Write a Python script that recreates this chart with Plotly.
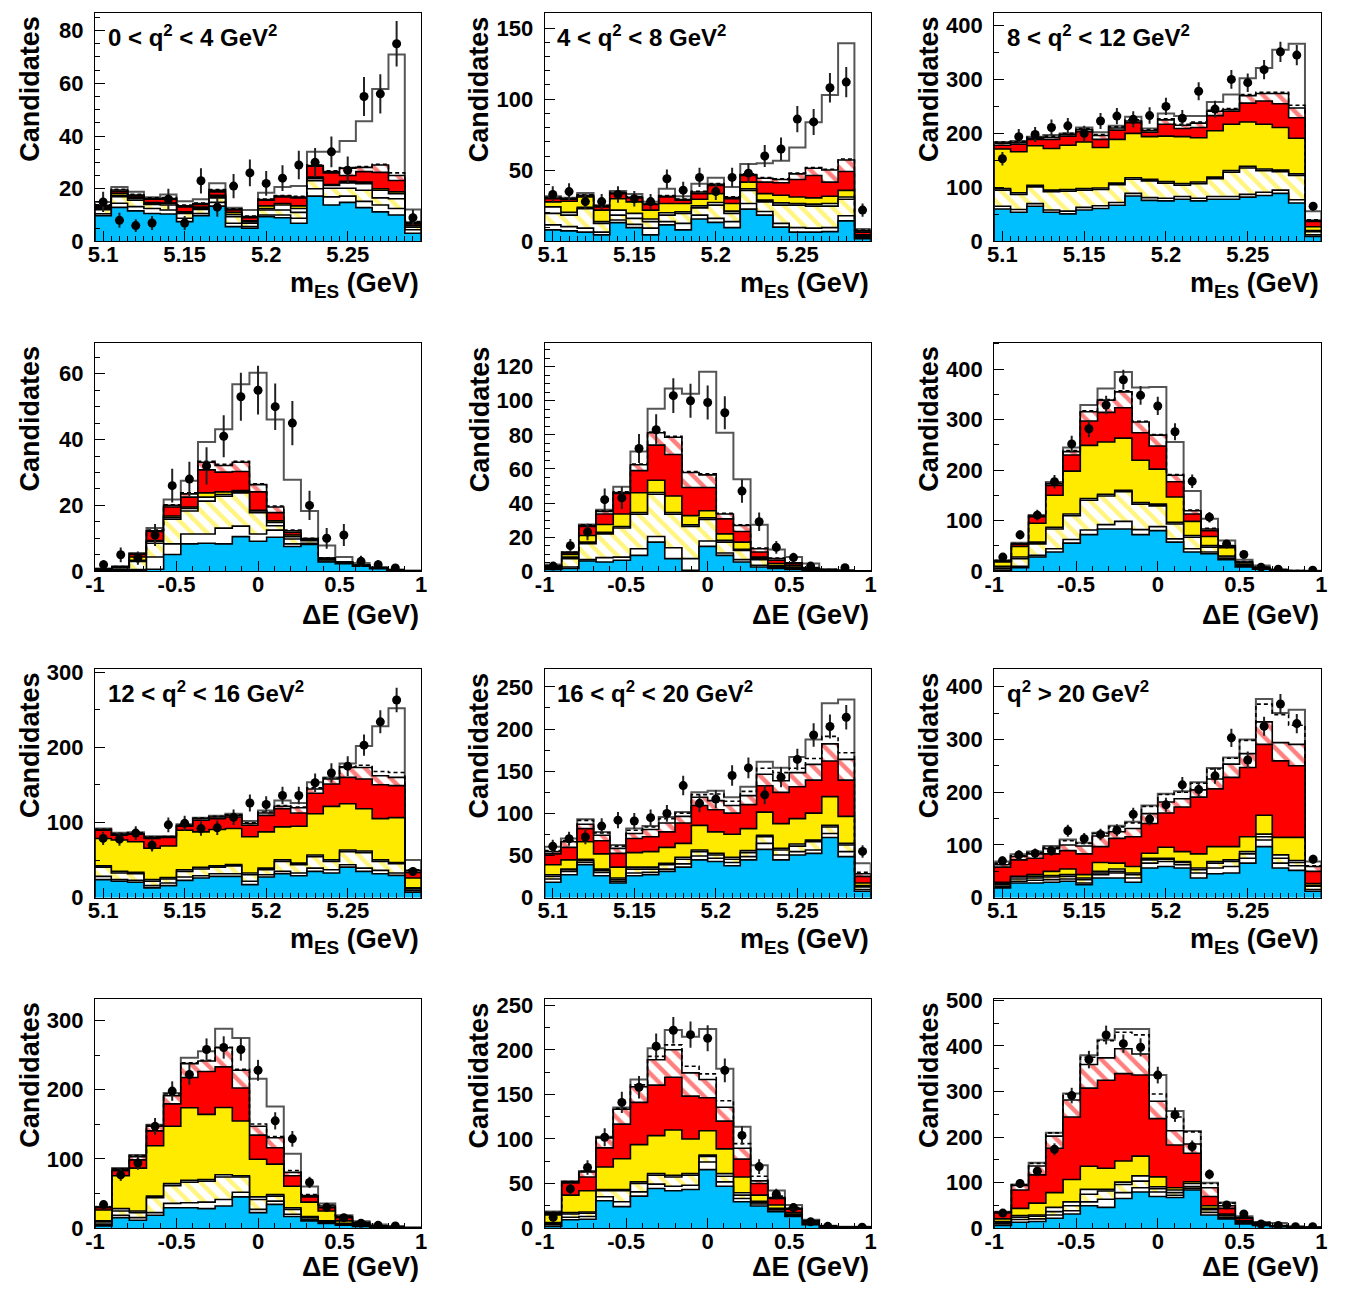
import numpy as np
import plotly.graph_objects as go

# ---------------- binning / ticks ----------------
MES_LO, MES_HI, MES_NBINS = 5.095, 5.295, 20
DE_LO, DE_HI, DE_NBINS = -1.0, 1.0, 19
MES_TICKS = [5.1, 5.15, 5.2, 5.25]
MES_TICKTEXT = ["5.1", "5.15", "5.2", "5.25"]
DE_TICKS = [-1, -0.5, 0, 0.5, 1]
DE_TICKTEXT = ["-1", "-0.5", "0", "0.5", "1"]

# ---------------- panel 1 : 0<q2<4, mES ----------------
p1_cyan = [9.8, 12.9, 11.6, 10.6, 10.4, 7.5, 9.8, 13.4, 5.6, 5.0, 9.4, 9.0, 6.9, 17.2, 13.8, 14.8, 12.8, 11.2, 10.0, 3.1]
p1_w1 = [10.5, 14.5, 13.2, 12.5, 11.9, 8.8, 10.6, 14.8, 6.9, 5.6, 10.0, 10.0, 8.8, 20.0, 16.9, 17.2, 15.2, 13.8, 12.5, 4.4]
p1_yh = [12.0, 17.0, 15.6, 14.0, 13.8, 10.6, 12.1, 16.5, 9.4, 6.9, 11.9, 11.9, 11.0, 23.0, 20.2, 20.2, 19.4, 16.5, 16.2, 5.4]
p1_w2 = [12.5, 17.5, 16.2, 14.4, 14.4, 11.0, 12.6, 17.0, 10.2, 7.4, 12.5, 13.8, 12.5, 23.8, 21.2, 22.2, 21.9, 19.4, 18.1, 6.0]
p1_yel = [13.0, 18.3, 16.8, 14.7, 14.6, 11.2, 13.0, 17.5, 11.0, 7.8, 13.5, 14.4, 13.5, 24.4, 21.6, 22.8, 22.5, 20.0, 18.8, 6.2]
p1_red = [13.5, 19.0, 17.3, 16.0, 16.0, 13.1, 14.0, 18.8, 11.9, 9.0, 15.6, 16.9, 16.5, 28.5, 26.0, 25.0, 26.5, 26.2, 23.1, 6.9]
p1_rh = [13.7, 19.5, 17.6, 16.3, 16.3, 13.5, 14.4, 19.4, 12.2, 9.4, 15.9, 17.2, 16.8, 28.8, 26.5, 27.8, 28.1, 29.0, 25.0, 7.2]
p1_dash = [13.9, 19.8, 17.9, 16.5, 16.6, 13.8, 14.6, 19.7, 12.4, 9.6, 16.1, 17.4, 17.1, 29.0, 26.8, 28.0, 28.4, 29.3, 26.0, 7.5]
p1_tot = [15.0, 20.6, 18.8, 16.8, 17.8, 15.2, 16.0, 22.1, 12.8, 11.9, 18.5, 20.6, 21.0, 34.0, 34.0, 38.1, 45.6, 57.8, 70.9, 12.1]
p1_data = [15, 8, 6, 7, 16, 7, 23, 13, 21, 26, 22, 24, 29, 30, 34, 27, 55, 56, 75, 9]

# ---------------- panel 2 : 4<q2<8, mES ----------------
p2_cyan = [8.1, 7.4, 6.5, 4.6, 13.2, 9.7, 4.6, 11.6, 8.1, 15.7, 13.4, 9.7, 22.7, 18.5, 10.0, 6.5, 6.5, 6.9, 14.4, 1.9]
p2_w1 = [11.6, 10.4, 9.3, 6.5, 15.0, 12.0, 9.3, 13.9, 12.7, 18.5, 16.2, 13.9, 26.6, 21.0, 12.7, 9.7, 9.3, 9.7, 18.0, 2.8]
p2_yh = [19.7, 18.5, 23.0, 12.7, 18.5, 16.2, 13.9, 18.5, 19.7, 23.6, 25.5, 19.7, 35.9, 27.8, 25.5, 25.5, 24.8, 24.8, 29.6, 3.5]
p2_w2 = [24.3, 20.4, 24.0, 13.9, 22.0, 19.7, 15.7, 20.1, 20.8, 25.0, 27.3, 21.3, 37.0, 29.0, 27.1, 26.6, 26.2, 26.6, 31.2, 4.2]
p2_yel = [27.8, 28.2, 31.2, 22.0, 30.0, 27.8, 22.0, 26.6, 26.6, 29.6, 33.6, 26.6, 41.7, 33.6, 32.4, 31.2, 30.6, 31.7, 35.9, 4.6]
p2_red = [30.0, 29.6, 31.9, 24.3, 33.6, 30.6, 25.9, 31.2, 28.9, 33.6, 39.4, 30.0, 46.3, 41.7, 41.2, 43.5, 46.3, 41.7, 49.1, 6.5]
p2_rh = [30.5, 30.0, 32.4, 24.8, 34.0, 31.0, 26.2, 31.7, 29.4, 34.7, 40.1, 30.8, 47.0, 44.4, 43.5, 47.5, 51.4, 50.2, 57.2, 7.4]
p2_dash = [31.0, 30.3, 32.7, 25.2, 34.5, 31.5, 26.6, 32.2, 29.8, 35.2, 40.6, 31.3, 47.5, 44.9, 44.0, 48.0, 51.9, 50.7, 57.9, 8.0]
p2_tot = [31.7, 30.6, 34.0, 25.5, 35.4, 33.3, 27.8, 37.0, 31.7, 40.5, 44.7, 38.2, 54.4, 54.9, 56.7, 66.0, 83.8, 103.0, 139.4, 8.8]
p2_data = [33, 35, 28, 28, 33, 30, 28, 44, 36, 45, 35, 45, 48, 60, 65, 86, 84, 108, 112, 22]

# ---------------- panel 3 : 8<q2<12, mES ----------------
p3_cyan = [60, 54, 65, 54, 51, 58, 61, 67, 84, 76, 75, 78, 75, 78, 78, 82, 85, 89, 71, 9]
p3_w1 = [65, 59, 70, 58, 56, 63, 66, 72, 89, 81, 80, 83, 80, 83, 83, 87, 91, 95, 77, 12]
p3_yh = [95, 87, 101, 92, 93, 95, 96, 105, 115, 112, 108, 104, 107, 116, 128, 136, 131, 129, 122, 18]
p3_w2 = [98, 90, 104, 95, 96, 98, 99, 108, 118, 115, 111, 107, 110, 119, 131, 139, 134, 132, 125, 20]
p3_yel = [171, 166, 177, 172, 178, 184, 174, 189, 200, 194, 195, 194, 192, 205, 217, 221, 217, 211, 191, 27]
p3_red = [178, 180, 189, 189, 195, 203, 189, 206, 220, 202, 217, 209, 211, 233, 241, 256, 260, 255, 229, 37]
p3_rh = [182, 183, 191, 193, 198, 207, 196, 210, 223, 205, 225, 215, 219, 241, 244, 270, 274, 274, 247, 39]
p3_dash = [184, 185, 193, 195, 200, 209, 198, 212, 225, 207, 227, 217, 221, 243, 246, 272, 276, 276, 252, 40]
p3_tot = [184, 186, 194, 197, 200, 211, 202, 214, 231, 209, 237, 232, 232, 258, 272, 302, 321, 355, 366, 56]
p3_data = [153, 194, 198, 211, 214, 200, 223, 232, 226, 233, 250, 228, 278, 245, 300, 294, 318, 351, 345, 65]

# ---------------- panel 4 : 0<q2<4, dE ----------------
p4_cyan = [0.2, 0.2, 0.3, 0.6, 5.1, 8.3, 8.5, 8.3, 10.5, 9.1, 10.3, 7.5, 8.1, 2.8, 2.3, 1.5, 0.8, 0.3, 0.1]
p4_w1 = [0.3, 0.4, 0.5, 4.3, 8.3, 11.3, 11.3, 13.1, 13.7, 11.3, 12.5, 8.3, 8.5, 3.1, 2.5, 1.6, 0.8, 0.3, 0.1]
p4_yh = [0.4, 1.0, 3.0, 8.5, 15.8, 18.3, 21.3, 22.8, 23.8, 17.8, 13.8, 9.8, 9.3, 3.5, 2.6, 1.7, 0.9, 0.3, 0.1]
p4_w2 = [0.5, 1.1, 3.3, 9.1, 16.3, 19.1, 22.5, 23.3, 24.1, 18.3, 14.8, 10.5, 9.5, 3.6, 2.7, 1.7, 0.9, 0.3, 0.1]
p4_yel = [0.5, 1.2, 4.3, 9.3, 16.8, 19.5, 23.8, 24.1, 24.5, 18.5, 15.3, 11.0, 9.6, 3.7, 2.7, 1.8, 0.9, 0.3, 0.1]
p4_red = [0.6, 1.3, 5.1, 12.1, 19.5, 22.5, 30.8, 30.1, 30.3, 24.1, 17.8, 11.8, 9.8, 3.9, 2.8, 1.8, 1.0, 0.4, 0.1]
p4_rh = [0.6, 1.3, 5.2, 12.3, 20.0, 23.5, 33.1, 32.1, 33.1, 26.3, 19.5, 12.3, 9.9, 4.0, 2.8, 1.9, 1.0, 0.4, 0.1]
p4_dash = [0.7, 1.4, 5.3, 12.5, 20.2, 23.8, 33.4, 32.5, 33.4, 26.6, 19.8, 12.5, 10.0, 4.1, 2.9, 1.9, 1.0, 0.4, 0.1]
p4_tot = [0.8, 1.5, 5.5, 13.1, 21.8, 27.5, 39.3, 43.1, 56.8, 60.3, 46.1, 27.8, 18.3, 7.8, 4.3, 2.5, 1.3, 0.5, 0.2]
p4_data = [2, 5, 4, 11, 26, 28, 32, 41, 53, 55, 50, 45, 20, 10, 11, 3, 2, 1, None]

# ---------------- panel 5 : 4<q2<8, dE ----------------
p5_cyan = [1.0, 1.6, 6.0, 5.4, 6.4, 9.3, 17.1, 7.4, 0.6, 14.6, 9.3, 5.4, 2.5, 1.6, 1.0, 0.6, 0.2, 0.0, 0.0]
p5_w1 = [1.6, 2.5, 6.8, 8.0, 8.3, 13.2, 20.4, 13.8, 7.4, 17.7, 10.7, 6.8, 3.5, 2.1, 1.6, 0.8, 0.4, 0.2, 0.0]
p5_yh = [2.1, 7.4, 16.1, 21.9, 25.4, 33.4, 45.2, 33.4, 26.2, 30.3, 17.1, 12.2, 6.8, 2.9, 2.1, 1.0, 0.6, 0.2, 0.0]
p5_w2 = [2.3, 8.3, 17.1, 22.9, 26.2, 34.4, 46.2, 34.4, 27.2, 31.3, 18.1, 12.8, 7.4, 3.3, 2.5, 1.2, 0.6, 0.2, 0.0]
p5_yel = [2.5, 9.9, 21.0, 27.4, 33.6, 46.0, 53.4, 44.1, 32.6, 35.5, 21.9, 17.1, 8.3, 4.5, 3.5, 1.4, 0.8, 0.2, 0.0]
p5_red = [2.9, 10.7, 26.2, 33.6, 45.6, 59.0, 74.0, 68.5, 49.1, 49.1, 30.7, 23.3, 11.3, 6.4, 4.5, 1.7, 0.8, 0.4, 0.2]
p5_rh = [3.1, 10.9, 26.8, 35.1, 46.2, 62.5, 81.2, 78.6, 57.9, 56.5, 33.6, 26.8, 13.2, 7.4, 4.9, 1.9, 1.0, 0.4, 0.2]
p5_dash = [3.3, 11.1, 27.2, 35.5, 46.6, 62.9, 81.6, 79.2, 58.5, 57.1, 34.0, 27.2, 13.6, 7.8, 5.0, 2.1, 1.0, 0.4, 0.2]
p5_tot = [3.9, 11.3, 27.4, 36.1, 49.5, 70.3, 95.3, 107.2, 104.1, 117.0, 81.2, 54.0, 27.2, 12.8, 8.3, 4.5, 1.2, 0.6, 0.2]
p5_data = [3, 15, 23, 42, 43, 72, 83, 103, 100, 99, 93, 47, 29, 14, 8, 3, None, 2, None]

# ---------------- panel 6 : 8<q2<12, dE ----------------
p6_cyan = [2.0, 7.2, 28.1, 37.9, 55.6, 72.5, 83.7, 83.7, 72.5, 80.4, 57.5, 37.9, 34.6, 22.9, 8.5, 3.9, 1.3, 0.3, 0.1]
p6_w1 = [5.2, 9.8, 31.4, 44.4, 62.7, 81.7, 92.2, 98.7, 82.4, 88.2, 64.1, 44.4, 37.9, 24.8, 9.8, 4.6, 1.6, 0.5, 0.2]
p6_yh = [8.5, 24.8, 54.2, 83.7, 109.8, 140.5, 149.0, 157.5, 132.7, 129.4, 93.5, 67.3, 47.7, 28.1, 11.8, 5.2, 2.0, 0.7, 0.3]
p6_w2 = [9.8, 28.1, 57.5, 86.9, 113.1, 143.8, 152.3, 160.1, 136.0, 132.7, 96.7, 70.6, 51.0, 30.1, 13.1, 5.9, 2.2, 0.8, 0.3]
p6_yel = [18.3, 49.0, 94.8, 150.3, 198.0, 249.0, 255.6, 263.4, 219.6, 202.0, 147.0, 98.7, 68.6, 46.4, 16.3, 6.5, 2.6, 0.9, 0.4]
p6_red = [19.6, 52.9, 107.8, 169.9, 230.0, 297.4, 314.4, 323.5, 273.9, 247.7, 177.0, 113.1, 80.4, 49.0, 17.6, 7.2, 2.8, 1.0, 0.4]
p6_rh = [20.3, 54.2, 109.2, 173.2, 236.6, 315.7, 338.6, 354.9, 295.4, 269.3, 190.0, 119.6, 83.7, 50.3, 18.3, 7.8, 3.0, 1.0, 0.5]
p6_dash = [20.9, 54.9, 109.8, 174.5, 238.6, 317.6, 339.9, 356.9, 296.7, 270.6, 191.5, 120.9, 85.0, 51.0, 19.0, 8.5, 3.1, 1.1, 0.5]
p6_tot = [21.6, 56.2, 111.1, 176.5, 245.0, 328.8, 361.4, 394.1, 363.4, 364.7, 255.6, 158.8, 103.6, 60.8, 22.9, 11.1, 3.3, 1.3, 0.7]
p6_data = [28, 72, 111, 177, 252, 282, 329, 379, 348, 327, 276, 178, 107, 54, 33, 8, 4, None, 2]

# ---------------- panel 7 : 12<q2<16, mES ----------------
p7_cyan = [24.1, 21.9, 20.6, 13.2, 16.2, 23.2, 26.3, 28.5, 28.5, 17.5, 27.6, 32.0, 29.4, 35.1, 32.9, 40.8, 35.1, 32.0, 29.8, 7.5]
p7_w1 = [28.5, 24.1, 23.2, 16.2, 19.7, 27.6, 29.4, 32.0, 32.0, 21.9, 30.7, 35.1, 32.9, 39.5, 37.3, 43.9, 39.5, 36.4, 32.9, 9.6]
p7_yh = [40.8, 32.9, 32.0, 21.9, 25.0, 35.1, 38.2, 40.8, 42.5, 30.7, 37.3, 48.2, 43.9, 54.8, 48.2, 61.4, 60.1, 48.2, 45.2, 11.8]
p7_w2 = [42.5, 35.1, 33.8, 24.1, 26.8, 37.3, 40.4, 42.5, 44.3, 32.9, 39.5, 50.4, 46.1, 57.0, 50.4, 63.6, 62.3, 50.4, 46.9, 13.2]
p7_yel = [78.9, 76.8, 74.6, 65.8, 68.9, 89.9, 87.7, 90.8, 92.1, 81.1, 87.7, 94.3, 95.2, 111.8, 121.5, 125.0, 118.4, 105.3, 106.6, 26.3]
p7_red = [89.9, 83.3, 84.6, 78.9, 80.3, 95.2, 103.1, 105.3, 107.5, 96.5, 109.6, 118.4, 112.7, 139.0, 151.3, 160.1, 157.9, 150.4, 149.1, 33.8]
p7_rh = [90.8, 84.6, 85.5, 80.3, 81.1, 96.5, 105.3, 107.5, 109.6, 98.7, 112.7, 121.5, 119.7, 144.7, 157.9, 173.2, 173.2, 162.3, 160.1, 36.4]
p7_dash = [91.2, 85.5, 86.4, 81.1, 81.6, 96.9, 106.1, 108.3, 110.5, 99.6, 114.0, 122.8, 120.6, 146.1, 159.2, 174.1, 176.3, 168.0, 166.7, 37.3]
p7_tot = [92.1, 86.4, 87.3, 82.0, 82.0, 97.8, 106.6, 109.2, 111.8, 102.2, 116.2, 129.4, 125.9, 153.5, 160.1, 178.5, 201.8, 228.1, 252.2, 50.4]
p7_data = [79, 78, 86, 70, 97, 99, 92, 93, 107, 126, 124, 136, 136, 153, 166, 175, 203, 234, 263, 35]

# ---------------- panel 8 : 16<q2<20, mES ----------------
p8_cyan = [18.4, 27.3, 39.1, 26.2, 17.6, 26.2, 27.3, 31.3, 36.3, 44.9, 43.0, 37.9, 44.9, 57.4, 44.9, 50.8, 52.7, 71.5, 48.8, 7.8]
p8_w1 = [22.3, 31.3, 41.8, 30.1, 19.5, 29.3, 30.1, 34.0, 40.2, 49.6, 46.9, 41.8, 48.8, 64.5, 50.8, 54.7, 56.6, 76.2, 54.7, 9.8]
p8_yh = [25.4, 33.2, 44.1, 32.4, 21.5, 34.0, 34.0, 39.1, 45.7, 54.7, 50.8, 45.7, 53.5, 72.3, 56.6, 61.3, 66.4, 84.0, 62.5, 12.9]
p8_w2 = [27.3, 34.0, 45.7, 34.0, 23.4, 36.3, 36.3, 41.0, 48.0, 56.6, 52.7, 48.0, 55.9, 74.2, 58.6, 63.7, 68.4, 85.9, 64.5, 14.5]
p8_yel = [39.1, 44.9, 66.4, 52.0, 36.3, 53.5, 54.7, 59.8, 64.5, 85.9, 78.1, 75.4, 82.0, 101.6, 87.9, 93.8, 100.4, 119.9, 96.5, 17.6]
p8_red = [52.0, 59.8, 82.0, 67.6, 52.7, 70.3, 72.3, 78.1, 88.7, 109.4, 104.3, 100.4, 110.5, 132.8, 125.0, 131.6, 139.5, 162.1, 139.5, 25.4]
p8_rh = [54.7, 66.4, 87.1, 74.2, 58.6, 76.2, 80.9, 88.7, 96.5, 119.1, 115.2, 109.4, 121.1, 146.5, 138.7, 148.4, 158.2, 182.4, 164.1, 28.5]
p8_dash = [55.9, 67.6, 91.8, 77.0, 61.3, 80.1, 84.0, 93.8, 100.4, 122.3, 123.0, 114.5, 126.2, 153.5, 148.4, 153.5, 165.2, 191.4, 171.9, 30.1]
p8_tot = [60.5, 70.3, 93.0, 78.1, 62.5, 82.0, 85.2, 95.7, 101.6, 125.0, 127.0, 119.1, 131.6, 161.3, 154.3, 166.8, 187.5, 230.5, 235.2, 41.0]
p8_data = [61, 70, 72, 85, 92, 91, 95, 100, 133, 112, 117, 145, 154, 122, 143, 164, 193, 203, 214, 55]

# ---------------- panel 9 : q2>20, mES ----------------
p9_cyan = [18.8, 28.1, 28.1, 29.4, 31.3, 25.0, 37.5, 37.5, 29.4, 56.3, 59.4, 56.3, 37.5, 45.6, 46.9, 65.6, 96.9, 56.3, 51.9, 12.5]
p9_w1 = [21.9, 31.3, 33.1, 34.4, 35.6, 28.1, 43.8, 46.9, 37.5, 65.6, 68.8, 62.5, 46.9, 56.3, 59.4, 75.0, 109.4, 65.6, 60.6, 15.6]
p9_yh = [25.0, 35.6, 37.5, 39.4, 40.6, 34.4, 46.9, 50.0, 43.8, 71.9, 73.1, 66.9, 53.1, 65.6, 68.8, 83.1, 115.6, 75.0, 66.9, 21.9]
p9_w2 = [26.9, 39.4, 40.6, 41.9, 43.8, 37.5, 50.0, 54.4, 46.9, 75.0, 75.0, 68.8, 56.3, 68.8, 71.9, 87.5, 120.6, 81.3, 70.6, 23.1]
p9_yel = [29.4, 40.6, 43.8, 50.0, 54.4, 43.8, 66.9, 65.6, 59.4, 84.4, 95.6, 87.5, 83.1, 96.9, 96.9, 115.6, 156.3, 114.4, 114.4, 26.9]
p9_red = [58.1, 71.9, 75.0, 83.1, 89.4, 83.1, 96.9, 112.5, 115.6, 140.6, 160.6, 171.9, 190.6, 206.3, 228.1, 246.9, 290.6, 259.4, 250.0, 50.0]
p9_rh = [62.5, 78.1, 83.1, 93.1, 100.0, 98.1, 116.9, 125.0, 131.3, 159.4, 181.3, 187.5, 204.4, 225.0, 253.1, 273.1, 333.1, 293.8, 290.6, 59.4]
p9_dash = [65.6, 79.4, 85.6, 95.6, 108.1, 103.1, 121.9, 134.4, 141.9, 173.1, 195.6, 200.0, 216.9, 243.8, 264.4, 298.1, 366.9, 346.9, 326.9, 60.6]
p9_tot = [68.8, 82.5, 87.5, 98.1, 110.6, 104.4, 123.1, 136.3, 143.8, 175.0, 196.9, 201.9, 218.8, 245.6, 265.6, 300.0, 376.3, 350.0, 356.3, 68.8]
p9_data = [70, 81, 84, 89, 127, 112, 120, 128, 158, 149, 176, 214, 205, 231, 303, 261, 325, 367, 330, 73]

# ---------------- panel 10 : 12<q2<16, dE ----------------
p10_cyan = [3.3, 15.2, 11.4, 18.6, 29.5, 29.5, 28.1, 31.9, 45.2, 22.4, 34.3, 16.7, 10.5, 6.7, 4.3, 2.4, 1.4, 0.5, 0.2]
p10_w1 = [5.7, 18.6, 15.2, 22.4, 35.7, 36.7, 37.6, 41.4, 51.9, 27.1, 39.0, 20.0, 12.9, 8.1, 5.2, 3.3, 1.6, 0.6, 0.2]
p10_yh = [9.0, 24.8, 22.4, 43.8, 61.4, 66.2, 67.6, 73.8, 73.8, 41.4, 46.2, 27.1, 15.2, 9.0, 6.2, 3.8, 1.8, 0.7, 0.3]
p10_w2 = [10.5, 28.1, 24.8, 46.2, 64.3, 69.0, 70.0, 77.1, 75.7, 45.2, 48.6, 29.5, 16.7, 10.5, 7.1, 4.3, 2.0, 0.8, 0.3]
p10_yel = [26.2, 75.7, 86.7, 119.0, 147.1, 173.8, 164.3, 174.3, 154.8, 99.5, 92.4, 60.5, 37.6, 24.8, 10.5, 5.2, 2.6, 1.0, 0.4]
p10_red = [29.5, 82.9, 98.6, 140.5, 179.5, 217.6, 226.2, 232.9, 202.4, 134.3, 116.2, 75.7, 45.2, 29.5, 15.2, 7.1, 3.0, 1.2, 0.5]
p10_rh = [30.0, 85.2, 103.3, 147.1, 191.4, 237.6, 241.4, 260.5, 228.1, 147.1, 130.5, 80.5, 47.1, 31.9, 16.7, 8.1, 3.3, 1.3, 0.5]
p10_dash = [30.5, 85.7, 104.8, 148.6, 193.8, 239.0, 242.4, 261.4, 229.5, 150.5, 132.4, 83.3, 48.6, 33.3, 17.6, 8.6, 3.5, 1.4, 0.6]
p10_tot = [31.0, 86.7, 105.7, 149.5, 195.2, 246.2, 255.7, 288.1, 274.8, 215.7, 175.7, 107.6, 60.0, 35.7, 18.6, 10.0, 5.2, 2.9, 1.4]
p10_data = [34, 77, 94, 147, 198, 222, 258, 261, 258, 228, 155, 129, 66, 30, 15, 7, 4, 3, None]

# ---------------- panel 11 : 16<q2<20, dE ----------------
p11_cyan = [1.9, 9.3, 10.0, 30.7, 24.1, 35.9, 44.4, 41.9, 43.3, 65.6, 47.0, 29.6, 24.8, 18.5, 13.0, 3.7, 1.1, 0.4, 0.7]
p11_w1 = [3.7, 12.2, 13.0, 35.2, 29.6, 40.7, 49.3, 47.0, 48.1, 74.1, 51.9, 33.3, 27.0, 20.4, 13.7, 4.4, 1.3, 0.5, 0.8]
p11_yh = [5.6, 15.9, 16.7, 41.9, 41.9, 50.0, 59.3, 57.4, 59.3, 80.4, 58.1, 37.0, 28.5, 21.1, 14.8, 4.8, 1.5, 0.6, 0.9]
p11_w2 = [6.3, 17.4, 18.1, 43.3, 43.3, 51.9, 61.1, 59.3, 61.1, 81.9, 61.1, 39.6, 30.0, 22.2, 15.9, 5.2, 1.6, 0.6, 0.9]
p11_yel = [14.8, 37.0, 41.9, 68.5, 77.8, 93.7, 103.7, 110.0, 100.0, 109.3, 88.9, 57.4, 37.0, 25.9, 17.4, 5.6, 1.8, 0.7, 1.0]
p11_red = [16.7, 50.7, 57.4, 90.0, 116.7, 141.1, 160.4, 169.3, 148.1, 146.3, 120.0, 77.4, 50.0, 33.3, 21.1, 7.4, 2.2, 0.8, 1.1]
p11_rh = [17.4, 51.9, 63.0, 101.1, 133.3, 158.5, 188.9, 200.0, 174.1, 166.7, 135.6, 89.6, 53.0, 34.4, 22.2, 8.1, 2.4, 0.9, 1.2]
p11_dash = [17.8, 52.2, 63.7, 101.9, 134.4, 160.7, 192.6, 205.6, 181.5, 173.0, 142.9, 94.8, 58.1, 35.9, 23.0, 8.5, 2.6, 1.0, 1.3]
p11_tot = [18.5, 52.6, 64.1, 102.6, 135.2, 166.7, 201.9, 222.2, 214.8, 223.3, 178.9, 113.7, 70.4, 42.2, 25.9, 9.3, 2.6, 1.4, 1.5]
p11_data = [12, 44, 68, 102, 141, 158, 204, 222, 217, 213, 177, 104, 69, 38, 23, 7, 2, None, 1]

# ---------------- panel 12 : q2>20, dE ----------------
p12_cyan = [5.8, 13.0, 14.4, 21.6, 31.0, 49.1, 45.5, 64.9, 79.4, 69.3, 67.1, 83.7, 28.9, 20.2, 9.4, 5.8, 2.9, 1.4, 0.7]
p12_w1 = [9.4, 18.8, 20.2, 28.9, 38.2, 57.7, 63.5, 77.9, 88.7, 79.4, 72.2, 87.3, 34.6, 23.8, 11.5, 6.5, 3.2, 1.6, 0.8]
p12_yh = [13.0, 24.0, 26.0, 36.1, 49.1, 74.3, 81.6, 95.9, 103.2, 86.6, 77.9, 91.0, 40.4, 27.4, 13.0, 7.2, 3.6, 1.8, 0.9]
p12_w2 = [14.4, 27.4, 28.9, 45.5, 57.7, 85.1, 85.1, 101.0, 114.7, 90.9, 83.7, 98.1, 43.3, 28.9, 14.4, 7.9, 3.9, 1.9, 0.9]
p12_yel = [20.2, 43.3, 54.8, 77.9, 106.8, 135.7, 131.3, 147.2, 158.0, 112.6, 88.7, 101.7, 49.1, 31.0, 16.6, 8.7, 4.3, 2.0, 1.0]
p12_red = [33.2, 83.7, 116.9, 175.3, 243.9, 307.4, 324.7, 339.1, 336.2, 240.3, 182.5, 164.5, 69.3, 43.3, 21.6, 11.5, 5.1, 2.2, 1.1]
p12_rh = [34.6, 93.8, 136.4, 202.0, 281.4, 359.3, 373.7, 393.9, 382.4, 278.5, 213.6, 184.7, 88.7, 49.1, 23.1, 12.3, 5.4, 2.3, 1.2]
p12_dash = [35.4, 95.2, 142.2, 209.2, 294.4, 375.2, 411.3, 430.0, 424.2, 294.4, 243.9, 211.3, 98.1, 54.8, 23.8, 13.0, 5.6, 2.4, 1.3]
p12_tot = [36.1, 95.9, 143.7, 209.2, 295.8, 379.5, 413.4, 437.2, 437.2, 336.2, 256.9, 213.4, 99.6, 56.3, 25.9, 13.0, 11.5, 4.3, 2.2]
p12_data = [33, 98, 125, 173, 291, 370, 424, 405, 397, 336, 249, 179, 118, 51, 31, 9, 6, 3, 3]

PANEL_TEXT = ["0 &lt; q<sup>2</sup> &lt; 4 GeV<sup>2</sup>", "4 &lt; q<sup>2</sup> &lt; 8 GeV<sup>2</sup>",
              "8 &lt; q<sup>2</sup> &lt; 12 GeV<sup>2</sup>", "12 &lt; q<sup>2</sup> &lt; 16 GeV<sup>2</sup>",
              "16 &lt; q<sup>2</sup> &lt; 20 GeV<sup>2</sup>", "q<sup>2</sup> &gt; 20 GeV<sup>2</sup>"]


def pan(kind, c, w1, yh, w2, yel, red, rh, dash, tot, data, label=None):
    return dict(kind=kind, cyan=c, w1=w1, yh=yh, w2=w2, yel=yel, red=red, rh=rh,
                dash=dash, tot=tot, data=data, label=label)


PANELS = [
    pan("mes", p1_cyan, p1_w1, p1_yh, p1_w2, p1_yel, p1_red, p1_rh, p1_dash, p1_tot, p1_data, PANEL_TEXT[0]),
    pan("mes", p2_cyan, p2_w1, p2_yh, p2_w2, p2_yel, p2_red, p2_rh, p2_dash, p2_tot, p2_data, PANEL_TEXT[1]),
    pan("mes", p3_cyan, p3_w1, p3_yh, p3_w2, p3_yel, p3_red, p3_rh, p3_dash, p3_tot, p3_data, PANEL_TEXT[2]),
    pan("de", p4_cyan, p4_w1, p4_yh, p4_w2, p4_yel, p4_red, p4_rh, p4_dash, p4_tot, p4_data),
    pan("de", p5_cyan, p5_w1, p5_yh, p5_w2, p5_yel, p5_red, p5_rh, p5_dash, p5_tot, p5_data),
    pan("de", p6_cyan, p6_w1, p6_yh, p6_w2, p6_yel, p6_red, p6_rh, p6_dash, p6_tot, p6_data),
    pan("mes", p7_cyan, p7_w1, p7_yh, p7_w2, p7_yel, p7_red, p7_rh, p7_dash, p7_tot, p7_data, PANEL_TEXT[3]),
    pan("mes", p8_cyan, p8_w1, p8_yh, p8_w2, p8_yel, p8_red, p8_rh, p8_dash, p8_tot, p8_data, PANEL_TEXT[4]),
    pan("mes", p9_cyan, p9_w1, p9_yh, p9_w2, p9_yel, p9_red, p9_rh, p9_dash, p9_tot, p9_data, PANEL_TEXT[5]),
    pan("de", p10_cyan, p10_w1, p10_yh, p10_w2, p10_yel, p10_red, p10_rh, p10_dash, p10_tot, p10_data),
    pan("de", p11_cyan, p11_w1, p11_yh, p11_w2, p11_yel, p11_red, p11_rh, p11_dash, p11_tot, p11_data),
    pan("de", p12_cyan, p12_w1, p12_yh, p12_w2, p12_yel, p12_red, p12_rh, p12_dash, p12_tot, p12_data),
]

# ---------------- axis configuration ----------------
Y_MAX = [86.7, 160.6, 423, 69.4, 134, 452, 304, 271, 433, 331, 257, 503]
Y_DTICK = [20, 50, 100, 20, 20, 100, 100, 50, 100, 100, 50, 100]
Y_MINOR = [5, 10, 50, 5, 5, 50, 50, 25, 50, 50, 25, 50]

# ---------------- geometry ----------------
W, H = 1354, 1294          # figure size in page pixels
SY = 1302.0 / 1294.0        # the photographed page region is slightly taller than the window
COLS_PX = [(86, 416), (541, 871), (996, 1327)]
ROWS_PX = [(2, 233.3), (336, 567.3), (666.5, 898), (1000.5, 1232.5)]


def px(x):
    return min(max(x / W, 0.0), 1.0)


def py(y):
    return min(max(1 - (y * SY) / H, 0.0), 1.0)


CYAN = "#00BFFF"
YELLOW = "#FFEB00"
RED = "#FF0000"
FONT = "Liberation Sans"
STYLE = {
    "tot": dict(fill="white", pat=None, line="#555555", width=2),
    "rh": dict(fill="white", pat=RED, line="black", width=1.6),
    "red": dict(fill=RED, pat=None, line="black", width=1.6),
    "yel": dict(fill=YELLOW, pat=None, line="black", width=1.6),
    "w2": dict(fill="white", pat=None, line="black", width=1.6),
    "yh": dict(fill="white", pat=YELLOW, line="black", width=1.6),
    "w1": dict(fill="white", pat=None, line="black", width=1.6),
    "cyan": dict(fill=CYAN, pat=None, line="black", width=1.6),
}
ORDER = ["tot", "rh", "red", "yel", "w2", "yh", "w1", "cyan"]


def step_path(edges, vals):
    xs = [edges[0]] + list(edges[:-1]) + [edges[-1], edges[-1]]
    ys = [0] + list(vals) + [vals[-1], 0]
    return xs, ys


fig = go.Figure()
annotations = []
layout = {}

for k, p in enumerate(PANELS):
    s = "" if k == 0 else str(k + 1)
    xa, ya = "x" + s, "y" + s
    row, col = k // 3, k % 3
    if p["kind"] == "mes":
        edges = np.linspace(MES_LO, MES_HI, MES_NBINS + 1)
    else:
        edges = np.linspace(DE_LO, DE_HI, DE_NBINS + 1)
    centers = 0.5 * (edges[:-1] + edges[1:])

    for key in ORDER:
        st = STYLE[key]
        xs, ys = step_path(edges, p[key])
        kw = dict(x=xs, y=ys, mode="lines", xaxis=xa, yaxis=ya,
                  line=dict(shape="hv", color=st["line"], width=st["width"]),
                  fill="toself", fillcolor=st["fill"], hoverinfo="skip", showlegend=False)
        if st["pat"]:
            kw["fillpattern"] = dict(shape="\\", fgcolor=st["pat"], bgcolor="white",
                                     size=11, solidity=0.4)
        fig.add_trace(go.Scatter(**kw))
    # dashed component top
    xs, ys = step_path(edges, p["dash"])
    fig.add_trace(go.Scatter(x=xs[1:-1], y=ys[1:-1], mode="lines", xaxis=xa, yaxis=ya,
                             line=dict(shape="hv", color="black", width=1.6, dash="4px,3px"),
                             hoverinfo="skip", showlegend=False))
    # data points
    fig.add_trace(go.Scatter(x=centers, y=p["data"], mode="markers", xaxis=xa, yaxis=ya,
                             marker=dict(color="black", size=9),
                             error_y=dict(type="sqrt", color="#222222", thickness=2, width=0),
                             hoverinfo="skip", showlegend=False))

    x0, x1 = COLS_PX[col]
    top, bot = ROWS_PX[row]
    tickfont = dict(family=FONT, size=22, color="black", weight="bold")
    if p["kind"] == "mes":
        xr = [MES_LO, MES_HI]
        tv, tt = MES_TICKS, MES_TICKTEXT
        minor = dict(ticks="inside", ticklen=5, tickcolor="black", tickmode="linear", tick0=5.1, dtick=0.005)
    else:
        xr = [DE_LO, DE_HI]
        tv, tt = DE_TICKS, DE_TICKTEXT
        minor = dict(ticks="inside", ticklen=5, tickcolor="black", tickmode="linear", tick0=-1, dtick=0.1)
    layout["xaxis" + s] = dict(domain=[px(x0), px(x1)], range=xr, anchor=ya,
                               showline=True, mirror=True, linecolor="black", linewidth=1,
                               ticks="inside", ticklen=10, tickcolor="black", tickwidth=1,
                               tickmode="array", tickvals=tv, ticktext=tt, minor=minor,
                               tickfont=tickfont, showgrid=False, zeroline=False,
                               ticklabelstandoff=-7)
    layout["yaxis" + s] = dict(domain=[py(bot), py(top)], range=[0, Y_MAX[k]], anchor=xa,
                               showline=True, mirror=True, linecolor="black", linewidth=1,
                               ticks="inside", ticklen=10, tickcolor="black", tickwidth=1,
                               tickmode="linear", tick0=0, dtick=Y_DTICK[k],
                               minor=dict(ticks="inside", ticklen=5, tickcolor="black",
                                          tickmode="linear", tick0=0, dtick=Y_MINOR[k]),
                               tickfont=tickfont, showgrid=False, zeroline=False,
                               ticklabelstandoff=6)

    # axis titles
    annotations.append(dict(text="<b>Candidates</b>", textangle=-90, xref="paper", yref="paper",
                            x=px(x0 - 66), y=py(top + 1), xanchor="center", yanchor="top",
                            showarrow=False, font=dict(family=FONT, size=27, color="black")))
    xt = "<b>m<sub>ES</sub> (GeV)</b>" if p["kind"] == "mes" else "<b>ΔE (GeV)</b>"
    ty = max(py(bot + 44), 14.0 / H)
    annotations.append(dict(text=xt, xref="paper", yref="paper",
                            x=px(x1), y=ty, xanchor="right", yanchor="middle",
                            showarrow=False, font=dict(family=FONT, size=27, color="black")))
    if p["label"]:
        annotations.append(dict(text="<b>" + p["label"] + "</b>", xref="paper", yref="paper",
                                x=px(x0 + 11), y=py(top + 23), xanchor="left", yanchor="middle",
                                showarrow=False, font=dict(family=FONT, size=24, color="black")))

fig.update_layout(width=W, height=H, margin=dict(l=0, r=0, t=0, b=0),
                  paper_bgcolor="white", plot_bgcolor="white", showlegend=False,
                  hovermode=False, annotations=annotations, **layout)

fig.write_html("out.html", config={"displayModeBar": False},
               post_script="document.documentElement.style.margin='0';"
                           "document.body.style.margin='0';document.body.style.padding='0';")
